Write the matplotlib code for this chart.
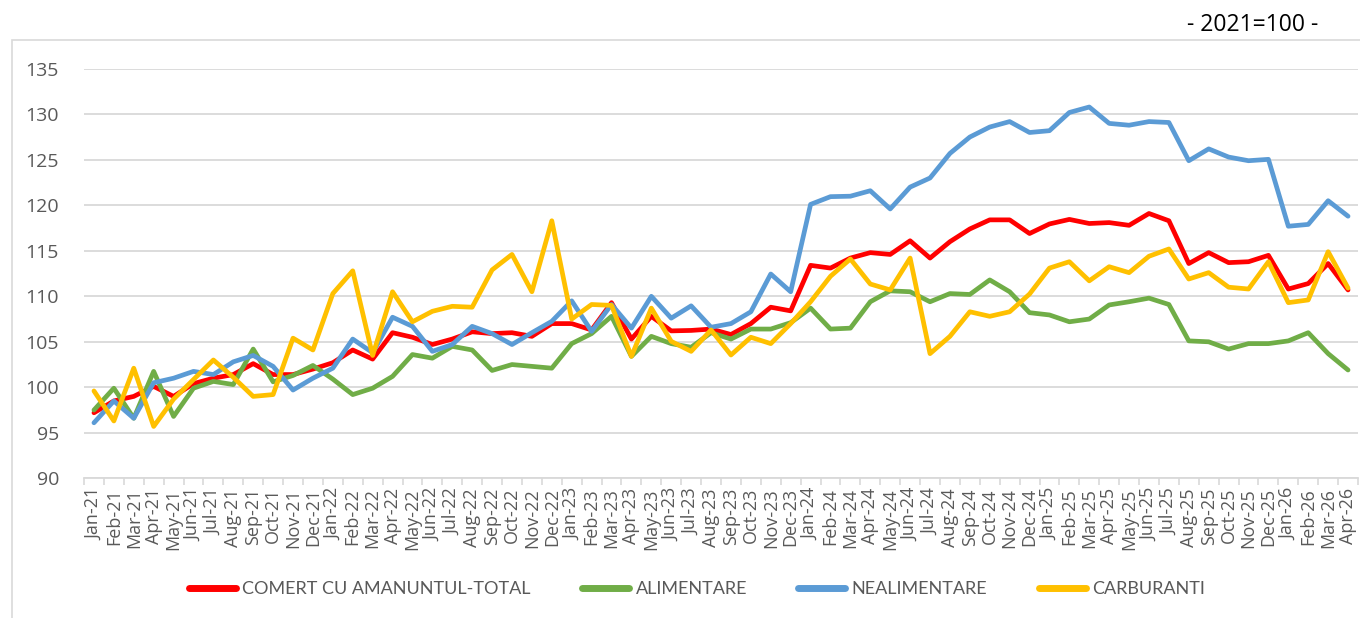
import matplotlib.pyplot as plt
import numpy as np
from matplotlib.patches import Rectangle

plt.rcParams['font.family'] = ['Lato', 'DejaVu Sans']

months = ["Jan", "Feb", "Mar", "Apr", "May", "Jun", "Jul", "Aug", "Sep", "Oct", "Nov", "Dec"]
labels = [f"{m}-{y}" for y in range(21, 27) for m in months][:64]

total = [97.2, 98.5, 99.0, 100.1, 99.0, 100.4, 101.0, 101.4, 102.6, 101.4, 101.4, 102.0,
         102.7, 104.1, 103.1, 106.0, 105.5, 104.7, 105.3, 106.1, 105.9, 106.0, 105.6, 107.0,
         107.0, 106.3, 109.3, 105.3, 107.8, 106.2, 106.25, 106.4, 105.8, 107.0, 108.8, 108.4,
         113.4, 113.1, 114.2, 114.8, 114.6, 116.1, 114.2, 116.0, 117.4, 118.4, 118.4, 116.9,
         117.95, 118.45, 118.0, 118.1, 117.8, 119.1, 118.3, 113.6, 114.8, 113.7, 113.8, 114.5,
         110.8, 111.4, 113.6, 110.7]

alimentare = [97.5, 99.9, 96.6, 101.75, 96.8, 99.9, 100.65, 100.3, 104.2, 100.6, 101.3, 102.4,
              100.9, 99.2, 99.9, 101.2, 103.6, 103.2, 104.5, 104.1, 101.85, 102.5, 102.3, 102.1,
              104.8, 105.9, 107.8, 103.4, 105.6, 104.8, 104.4, 106.0, 105.3, 106.4, 106.4, 107.1,
              108.7, 106.4, 106.5, 109.4, 110.6, 110.5, 109.4, 110.3, 110.2, 111.8, 110.5, 108.2,
              107.95, 107.2, 107.5, 109.05, 109.4, 109.8, 109.1, 105.1, 105.0, 104.2, 104.8, 104.8,
              105.1, 106.0, 103.7, 101.9]

nealimentare = [96.1, 98.5, 96.6, 100.5, 101.0, 101.75, 101.4, 102.8, 103.5, 102.3, 99.7, 101.0,
                102.1, 105.3, 103.8, 107.7, 106.7, 103.95, 104.7, 106.7, 105.9, 104.7, 106.0, 107.25,
                109.5, 106.15, 109.1, 106.5, 110.0, 107.6, 108.95, 106.6, 107.0, 108.3, 112.45, 110.5,
                120.1, 120.95, 121.0, 121.6, 119.6, 122.0, 123.0, 125.7, 127.5, 128.6, 129.2, 128.0,
                128.2, 130.2, 130.8, 129.0, 128.8, 129.2, 129.1, 124.9, 126.2, 125.3, 124.9, 125.05,
                117.7, 117.9, 120.5, 118.8]

carburanti = [99.6, 96.3, 102.1, 95.7, 98.7, 100.85, 103.0, 101.1, 99.0, 99.2, 105.4, 104.1,
              110.3, 112.8, 103.5, 110.5, 107.2, 108.35, 108.9, 108.8, 112.9, 114.6, 110.5, 118.3,
              107.5, 109.1, 109.0, 103.4, 108.7, 105.05, 103.95, 106.3, 103.55, 105.5, 104.8, 107.0,
              109.4, 112.2, 114.1, 111.35, 110.7, 114.2, 103.7, 105.6, 108.3, 107.8, 108.3, 110.25,
              113.1, 113.8, 111.7, 113.25, 112.6, 114.4, 115.2, 111.9, 112.6, 111.0, 110.8, 113.8,
              109.3, 109.6, 114.9, 110.9]

series = [("COMERT CU AMANUNTUL-TOTAL", total, "#FF0000"),
          ("ALIMENTARE", alimentare, "#70AD47"),
          ("NEALIMENTARE", nealimentare, "#5B9BD5"),
          ("CARBURANTI", carburanti, "#FFC000")]

fig = plt.figure(figsize=(13.6, 6.18), dpi=100)
ax = fig.add_axes([84/1360, 1 - 478.3/618, 1274/1360, (478.3 - 68.8)/618])

# chart area border
fig.patches.append(Rectangle((12/1360, -0.05), 1.1, 0.05 + 1 - 40/618, transform=fig.transFigure,
                             facecolor="none", edgecolor="#d9d9d9", linewidth=1.2, zorder=0))

x = np.arange(len(labels))
for name, vals, col in series:
    ax.plot(x, vals, color=col, linewidth=3.4, label=name, solid_joinstyle="round",
            solid_capstyle="round", zorder=3)

ax.set_xlim(-0.5, len(labels) - 0.5)
ax.set_ylim(90, 135)
ax.set_yticks(np.arange(90, 136, 5))
ax.grid(axis="y", color="#d9d9d9", linewidth=1.3, zorder=0)
ax.set_axisbelow(True)

ax.set_xticks(x)
ax.set_xticklabels(labels, rotation=90, fontsize=13, color="#595959", family="Open Sans")
ax.set_xticks(np.arange(-0.5, len(labels)), minor=True)
ax.tick_params(axis="x", which="major", length=0, pad=7)
ax.tick_params(axis="x", which="minor", length=5, color="#d9d9d9", width=1.2)
ax.tick_params(axis="y", length=0, pad=18)
for t in ax.get_yticklabels():
    t.set_fontfamily("Open Sans")
    t.set_fontsize(14)
    t.set_color("#595959")

for s in ["top", "right", "left"]:
    ax.spines[s].set_visible(False)
ax.spines["bottom"].set_color("#d9d9d9")
ax.spines["bottom"].set_linewidth(1.3)

fig.text(1318/1360, 1 - 25/618, "- 2021=100 -", ha="right", va="center", fontsize=16.5,
         color="black", family="Open Sans")

leg = fig.legend(loc="center", bbox_to_anchor=(697/1360, 1 - 589/618), ncol=4, frameon=False,
                 fontsize=13, handlelength=2.6, columnspacing=2.85, handletextpad=0.35)
for t in leg.get_texts():
    t.set_color("#595959")
for h in leg.get_lines():
    h.set_linewidth(5)

fig.savefig("out.png", dpi=100)
